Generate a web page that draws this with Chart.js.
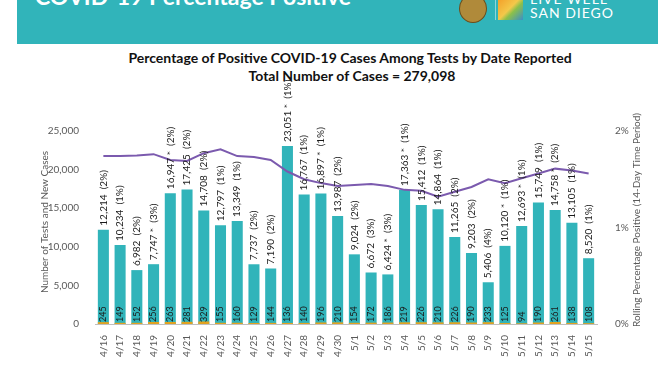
<!DOCTYPE html>
<html>
<head>
<meta charset="utf-8">
<script src="https://cdn.jsdelivr.net/npm/chart.js@4.4.1/dist/chart.umd.min.js"></script>
<style>
  html, body { margin: 0; padding: 0; background: #fff; }
  #wrap { position: relative; width: 672px; height: 372px; overflow: hidden; font-family: Lato, "Open Sans", sans-serif; }
  #band { position: absolute; left: 17px; top: 0; width: 641px; height: 44px; background: #31b4ba; overflow: hidden; }
  #band .big { position: absolute; left: 18px; top: -18px; color: #fff; font: bold 23px Lato, sans-serif; white-space: nowrap; }
  #seal { position: absolute; left: 442px; top: -6px; width: 26px; height: 27px; border-radius: 50%; background: #b08a3a; border: 1px solid #6b4e1c; }
  #sep { position: absolute; left: 478px; top: 0; width: 1px; height: 20px; background: #8fd6da; }
  #leaf { position: absolute; left: 481px; top: 0; width: 25px; height: 20px; background: linear-gradient(135deg, #f4a12a 0%, #f4c84a 45%, #8cc04a 60%, #3a8fc8 100%); }
  #lw1 { position: absolute; left: 513px; top: -10px; color: #fff; font: 14px Lato, sans-serif; letter-spacing: 1px; }
  #lw2 { position: absolute; left: 513px; top: 4px; color: #fff; font: 14px Lato, sans-serif; letter-spacing: 1px; }
  .ttl { position: absolute; width: 600px; text-align: center; font-weight: bold; color: #111; white-space: nowrap; }
  #t1 { left: 50px; top: 49px; font-size: 14px; }
  #t2 { left: 52px; top: 67px; font-size: 14px; }
  canvas { position: absolute; left: 0; top: 0; }
</style>
</head>
<body>
<div id="wrap">
  <div id="band">
    <div class="big">COVID-19 Percentage Positive</div>
    <div id="seal"></div>
    <div id="sep"></div>
    <div id="leaf"></div>
    <div id="lw1">LIVE WELL</div>
    <div id="lw2">SAN DIEGO</div>
  </div>
  <div class="ttl" id="t1">Percentage of Positive COVID-19 Cases Among Tests by Date Reported</div>
  <div class="ttl" id="t2">Total Number of Cases = 279,098</div>
  <canvas id="c" width="672" height="372"></canvas>
</div>
<script>
// data
const dates = ['4/16','4/17','4/18','4/19','4/20','4/21','4/22','4/23','4/24','4/25','4/26','4/27','4/28','4/29','4/30',
               '5/1','5/2','5/3','5/4','5/5','5/6','5/7','5/8','5/9','5/10','5/11','5/12','5/13','5/14','5/15'];
const tests = [12214, 10234, 6982, 7747, 16947, 17425, 14708, 12797, 13349, 7737, 7190, 23051, 16767, 16897, 13987,
               9024, 6672, 6424, 17363, 15412, 14864, 11265, 9203, 5406, 10120, 12693, 15749, 14758, 13105, 8520];
const dailyPct = [2, 1, 2, 3, 2, 2, 2, 1, 1, 2, 2, 1, 1, 1, 2,
                  2, 3, 3, 1, 1, 1, 2, 2, 4, 1, 1, 1, 2, 1, 1];
const starred = ['4/19','4/20','4/27','4/29','5/3','5/4','5/10','5/11','5/13'];
const newCases = [245, 149, 152, 256, 263, 281, 329, 155, 160, 129, 144, 136, 140, 196, 210,
                  154, 172, 186, 219, 226, 210, 226, 190, 233, 125, 94, 190, 261, 138, 108];
const rolling = [1.74, 1.74, 1.745, 1.76, 1.70, 1.69, 1.77, 1.81, 1.74, 1.73, 1.70, 1.58, 1.50, 1.46, 1.43,
                 1.44, 1.45, 1.43, 1.39, 1.38, 1.32, 1.37, 1.42, 1.50, 1.46, 1.51, 1.56, 1.61, 1.59, 1.56];

const grey = '#595959';

// value labels on the bars + rotated axis titles
const labelsPlugin = {
  id: 'barLabels',
  afterDatasetsDraw(chart) {
    const ctx = chart.ctx;
    const testMeta = chart.getDatasetMeta(0);
    const caseMeta = chart.getDatasetMeta(1);
    ctx.save();
    ctx.fillStyle = '#1a1a1a';
    ctx.textBaseline = 'middle';
    ctx.textAlign = 'left';
    testMeta.data.forEach((bar, i) => {
      const txt = tests[i].toLocaleString('en-US') + (starred.includes(dates[i]) ? ' *' : '') + '  (' + dailyPct[i] + '%)';
      ctx.save();
      ctx.translate(bar.x, bar.y - 4);
      ctx.rotate(-Math.PI / 2);
      ctx.font = '10px Lato, sans-serif';
      ctx.fillText(txt, 0, 0);
      ctx.restore();
    });
    caseMeta.data.forEach((bar, i) => {
      ctx.save();
      ctx.translate(bar.x, bar.base - 2);
      ctx.rotate(-Math.PI / 2);
      ctx.font = '9px Lato, sans-serif';
      ctx.fillText(String(newCases[i]), 0, 0);
      ctx.restore();
    });
    ctx.restore();
  },
  afterDraw(chart) {
    const ctx = chart.ctx;
    ctx.save();
    ctx.fillStyle = grey;
    ctx.textAlign = 'center';
    ctx.textBaseline = 'middle';
    ctx.font = '10px Lato, sans-serif';
    ctx.translate(45, 222);
    ctx.rotate(-Math.PI / 2);
    ctx.fillText('Number of Tests and New Cases', 0, 0);
    ctx.restore();
    ctx.save();
    ctx.fillStyle = grey;
    ctx.textAlign = 'center';
    ctx.textBaseline = 'middle';
    ctx.font = '10px Lato, sans-serif';
    ctx.translate(637, 220);
    ctx.rotate(-Math.PI / 2);
    ctx.fillText('Rolling Percentage Positive (14-Day Time Period)', 0, 0);
    ctx.restore();
  }
};

new Chart(document.getElementById('c'), {
  data: {
    labels: dates,
    datasets: [
      {
        type: 'bar',
        label: 'Number of Tests',
        data: tests,
        backgroundColor: '#31b4ba',
        grouped: false,
        barPercentage: 0.66,
        categoryPercentage: 1,
        yAxisID: 'y',
        order: 3
      },
      {
        type: 'bar',
        label: 'New Cases',
        data: newCases,
        backgroundColor: '#e2a21f',
        grouped: false,
        barPercentage: 0.66,
        categoryPercentage: 1,
        yAxisID: 'y',
        order: 2
      },
      {
        type: 'line',
        label: 'Rolling Percentage Positive',
        data: rolling,
        borderColor: '#7b5aae',
        borderWidth: 2,
        pointRadius: 0,
        tension: 0,
        yAxisID: 'y1',
        order: 1
      }
    ]
  },
  options: {
    responsive: false,
    animation: false,
    devicePixelRatio: 1,
    layout: { padding: { top: 131, left: 0, right: 0, bottom: 0 } },
    plugins: {
      legend: { display: false },
      tooltip: { enabled: false }
    },
    scales: {
      x: {
        grid: { display: false },
        border: { display: true, color: '#bfbfbf' },
        ticks: { color: grey, font: { size: 10, family: 'Lato' }, minRotation: 90, maxRotation: 90, padding: 3 },
        afterFit: s => { s.height = 48; }
      },
      y: {
        position: 'left',
        min: 0,
        max: 25000,
        grid: { display: false },
        border: { display: false },
        ticks: { stepSize: 5000, color: grey, font: { size: 10, family: 'Lato' }, padding: 8,
                 callback: v => v.toLocaleString('en-US') },
        afterFit: s => { s.width = 95; }
      },
      y1: {
        position: 'right',
        min: 0,
        max: 2,
        grid: { display: false },
        border: { display: false },
        ticks: { stepSize: 1, color: grey, font: { size: 10, family: 'Lato' }, padding: 10,
                 callback: v => v + '%' },
        afterFit: s => { s.width = 75; }
      }
    }
  },
  plugins: [labelsPlugin]
});
</script>
</body>
</html>
